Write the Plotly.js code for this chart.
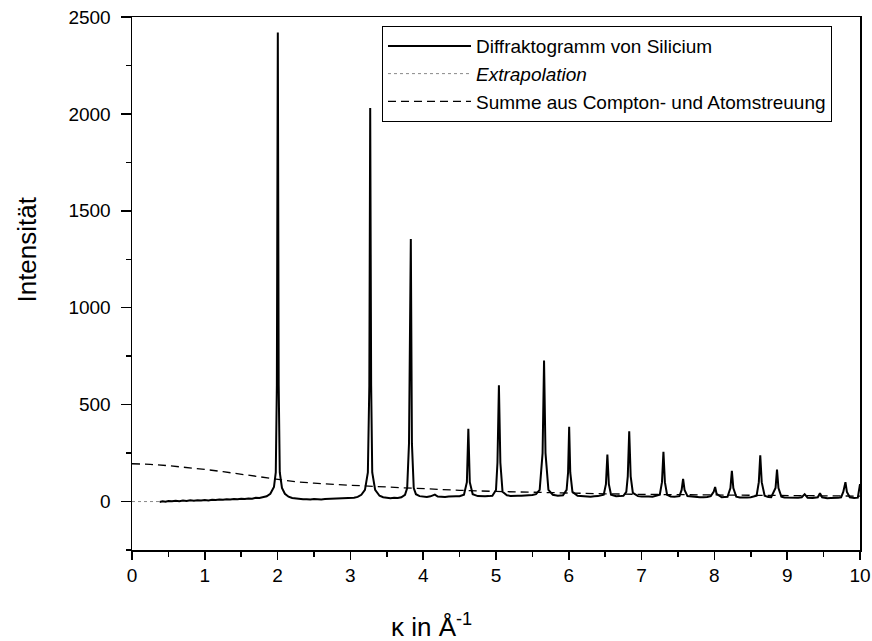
<!DOCTYPE html>
<html>
<head>
<meta charset="utf-8">
<script src="https://cdn.plot.ly/plotly-3.0.1.min.js"></script>
<style>html,body{margin:0;padding:0;background:#fff;}#chart{width:872px;height:641px;}</style>
</head>
<body>
<div id="chart"></div>
<script>
// Diffraktogramm von Silicium
const kappaSi = [
 0.38,0.42,0.46,0.50,0.55,0.60,0.65,0.70,0.75,0.80,0.85,0.90,0.95,1.00,1.05,1.10,1.15,1.20,1.25,1.30,1.35,1.40,1.45,1.50,1.55,1.60,1.65,1.70,1.75,1.80,1.85,
 1.90,1.95,1.975,1.99,2.003,2.015,2.03,2.06,2.10,2.15,2.20,2.25,2.30,2.35,2.40,2.45,2.50,2.55,2.60,2.65,2.70,2.75,2.80,2.85,2.90,2.95,3.00,3.05,3.10,3.15,
 3.20,3.24,3.26,3.272,3.285,3.30,3.34,3.40,3.45,3.50,3.55,3.60,3.65,3.70,3.75,
 3.78,3.805,3.83,3.845,3.87,3.90,3.95,4.00,4.05,4.10,4.16,4.20,4.25,4.30,4.35,4.40,4.45,4.50,4.56,
 4.60,4.62,4.64,4.68,4.75,4.80,4.85,4.90,4.95,
 5.00,5.02,5.04,5.06,5.09,5.15,5.20,5.25,5.30,5.35,5.40,5.45,5.50,5.55,
 5.60,5.64,5.66,5.68,5.72,5.78,5.85,5.92,
 5.97,5.99,6.005,6.02,6.05,6.12,6.20,6.25,6.30,6.35,6.40,6.48,
 6.51,6.53,6.55,6.58,6.65,6.70,6.75,
 6.79,6.81,6.83,6.85,6.88,6.95,7.00,7.05,7.10,7.15,7.25,
 7.28,7.30,7.32,7.35,7.40,7.45,7.52,
 7.55,7.57,7.59,7.63,7.70,7.75,7.80,7.85,7.90,7.95,
 7.99,8.01,8.03,8.10,8.18,
 8.22,8.24,8.26,8.30,8.35,8.40,8.45,8.50,8.58,
 8.61,8.63,8.65,8.69,8.74,8.78,
 8.84,8.86,8.88,8.92,8.96,9.00,9.05,9.10,9.15,9.20,
 9.24,9.28,9.35,9.42,9.45,9.48,9.55,9.60,9.65,9.70,9.74,
 9.77,9.80,9.82,9.86,9.92,9.97,10.0
];
const intensSi = [
 -2,2,-1,3,1,4,2,5,3,6,4,7,5,8,6,9,8,11,9,12,10,13,12,15,13,16,15,19,18,22,27,
 40,75,150,600,2420,600,150,70,40,25,18,15,14,12,12,10,13,11,11,13,14,12,13,15,15,17,17,20,24,35,
 60,150,600,2030,600,150,60,30,22,18,17,19,18,22,35,
 70,300,1355,300,70,38,28,25,24,27,36,26,24,24,26,25,27,27,35,
 100,375,100,38,28,26,27,28,30,
 60,200,600,200,50,32,29,28,30,30,31,32,34,38,
 60,250,727,250,60,35,30,32,
 60,150,386,150,50,30,27,26,25,27,28,35,
 90,243,90,35,27,28,30,
 50,130,363,130,45,28,26,27,26,25,35,
 100,257,100,35,26,25,28,
 60,117,60,28,24,23,22,22,23,28,
 50,75,40,22,25,
 70,158,70,25,21,20,21,22,30,
 100,239,100,30,23,22,
 70,165,70,25,21,20,19,18,19,22,
 38,20,18,22,43,22,17,18,18,19,22,
 50,100,50,22,18,20,90
];

// Extrapolation
const kappaExtra = [0.0, 0.1, 0.2, 0.3, 0.38];
const intensExtra = [0, 0, 0, 0, 0];

// Summe aus Compton- und Atomstreuung
const kappaSum = [0,0.25,0.5,0.75,1,1.25,1.5,1.75,2,2.25,2.5,2.75,3,3.5,4,4.5,5,5.5,6,6.5,7,7.5,8,9,10];
const intensSum = [195,192,185,176,166,154,141,127,112,102,95,89,84,75,66,58,52,47,43,40,37,35,33,30,28];

const xTicks = [0,1,2,3,4,5,6,7,8,9,10];
const yTicks = [0,500,1000,1500,2000,2500];

const FONT = '"Liberation Sans", Arial, sans-serif';

const traces = [
  {x: kappaSi, y: intensSi, type: 'scatter', mode: 'lines',
   name: 'Diffraktogramm von Silicium', line: {color: '#000', width: 2}},
  {x: kappaExtra, y: intensExtra, type: 'scatter', mode: 'lines',
   name: '<i>Extrapolation</i>', line: {color: '#888', width: 1, dash: 'dot'}},
  {x: kappaSum, y: intensSum, type: 'scatter', mode: 'lines',
   name: 'Summe aus Compton- und Atomstreuung', line: {color: '#000', width: 1.3, dash: '8px,5px'}}
];

const layout = {
  width: 872, height: 641,
  paper_bgcolor: '#fff', plot_bgcolor: '#fff',
  margin: {l: 132, r: 12, t: 17, b: 91},
  font: {family: FONT, color: '#000', size: 19},
  showlegend: true,
  legend: {x: 0.3434, xanchor: 'left', y: 0.983, yanchor: 'top',
           bordercolor: '#000', borderwidth: 1, bgcolor: '#fff',
           font: {family: FONT, size: 19, color: '#000'}, itemwidth: 83},
  xaxis: {range: [0, 10], tickvals: xTicks, ticktext: xTicks.map(String),
          ticks: 'outside', ticklen: 8, tickwidth: 1.5, tickcolor: '#000',
          showline: true, linecolor: '#000', linewidth: 1.5, mirror: true,
          showgrid: false, zeroline: false,
          minor: {dtick: 0.5, ticks: 'outside', ticklen: 5, tickwidth: 1.5, tickcolor: '#000', showgrid: false},
          tickfont: {family: FONT, size: 19, color: '#000'}},
  yaxis: {range: [-250, 2500], tickvals: yTicks, ticktext: yTicks.map(String),
          ticks: 'outside', ticklen: 10, tickwidth: 1.5, tickcolor: '#000',
          showline: true, linecolor: '#000', linewidth: 1.5, mirror: true,
          showgrid: false, zeroline: false, ticklabelstandoff: 6,
          minor: {dtick: 250, ticks: 'outside', ticklen: 5, tickwidth: 1.5, tickcolor: '#000', showgrid: false},
          tickfont: {family: FONT, size: 19, color: '#000'}},
  annotations: [
    {text: '\u03ba in \u00c5<sup>-1</sup>', xref: 'paper', yref: 'paper',
     x: 0.412, y: -0.141, xanchor: 'center', yanchor: 'middle', showarrow: false,
     font: {family: FONT, size: 26, color: '#000'}},
    {text: 'Intensität', xref: 'paper', yref: 'paper', textangle: -90,
     x: -0.144, y: 0.564, xanchor: 'center', yanchor: 'middle', showarrow: false,
     font: {family: FONT, size: 26, color: '#000'}}
  ]
};

Plotly.newPlot('chart', traces, layout, {displayModeBar: false, staticPlot: true});
</script>
</body>
</html>
